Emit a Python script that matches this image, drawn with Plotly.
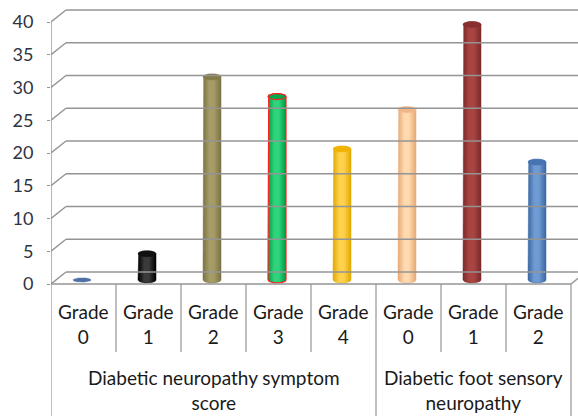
import numpy as np
import plotly.graph_objects as go

# ---- data -------------------------------------------------------------
categories = ["Grade 0", "Grade 1", "Grade 2", "Grade 3", "Grade 4",
              "Grade 0", "Grade 1", "Grade 2"]
values = [0, 4, 31, 28, 20, 26, 39, 18]
groups = ["Diabetic neuropathy symptom<br>score",
          "Diabetic foot sensory<br>neuropathy"]
group_sizes = [5, 3]
y_ticks = [0, 5, 10, 15, 20, 25, 30, 35, 40]

# ---- styling ----------------------------------------------------------
# (shadow, highlight, top cap, outline) per cylinder
bar_styles = [
    ("#3f5f93", "#6f8fc4", "#4f6fa5", None),
    ("#000000", "#3a3a3a", "#111111", None),
    ("#7b7243", "#a59c66", "#857b48", None),
    ("#009a44", "#2fd47a", "#00a84c", "#ff2020"),
    ("#e0a800", "#ffd24d", "#f0b400", None),
    ("#e8a875", "#ffd9b0", "#f2b788", None),
    ("#7a2a29", "#a84543", "#862f2e", None),
    ("#3b68a3", "#6f9ad2", "#4674b0", None),
]

W, H = 578, 416
ML = 51                     # left margin (front value axis)
CAT_PX = 65                 # category width in px
Y0_PX, Y40_PX = 284, 22     # pixel rows of 0 and 40 on the front wall
PX_PER_UNIT = (Y0_PX - Y40_PX) / 40.0

x_lo = -0.5
x_hi = x_lo + (W - ML) / CAT_PX
y_hi = Y0_PX / PX_PER_UNIT
y_lo = -(H - Y0_PX) / PX_PER_UNIT

DEPTH_DX = 15 / CAT_PX          # back-wall offset (x)
DEPTH_DY = 12 / PX_PER_UNIT     # back-wall offset (y)
BAR_DY = 4 / PX_PER_UNIT        # bars stand a little behind the front edge
BAR_DX = -1.5 / CAT_PX
RX = 9 / CAT_PX                 # cylinder radius (x units)
RY = 3 / PX_PER_UNIT            # ellipse half-height (y units)

GRID = "#949494"
LABEL_FONT = dict(family="Lato", size=19, color="#1a1a1a")
fig = go.Figure()

# ---- walls / gridlines ------------------------------------------------
shapes = []
for t in y_ticks:
    shapes.append(dict(type="line", xref="x", yref="y",
                       x0=x_lo, y0=t, x1=x_lo + DEPTH_DX, y1=t + DEPTH_DY,
                       line=dict(color=GRID, width=1.4)))
    shapes.append(dict(type="line", xref="x", yref="y",
                       x0=x_lo + DEPTH_DX, y0=t + DEPTH_DY, x1=x_hi, y1=t + DEPTH_DY,
                       line=dict(color=GRID, width=1.4)))
# floor front edge and right-hand floor edge
n = len(categories)
x_end = x_lo + n
shapes.append(dict(type="line", xref="x", yref="y", x0=x_lo, y0=0, x1=x_end, y1=0,
                   line=dict(color=GRID, width=1.4)))
shapes.append(dict(type="line", xref="x", yref="y", x0=x_end, y0=0,
                   x1=x_end + DEPTH_DX, y1=DEPTH_DY,
                   line=dict(color=GRID, width=1.4)))
# front value axis
shapes.append(dict(type="line", xref="x", yref="y", x0=x_lo, y0=y_ticks[-1], x1=x_lo, y1=0,
                   line=dict(color=GRID, width=1.4)))

# category dividers
inner_bottom = -(352 - Y0_PX) / PX_PER_UNIT
group_edges = np.cumsum([0] + group_sizes)
for k in range(n + 1):
    bottom = y_lo if k in group_edges else inner_bottom
    shapes.append(dict(type="line", xref="x", yref="y",
                       x0=x_lo + k, y0=0, x1=x_lo + k, y1=bottom,
                       line=dict(color=GRID, width=1.2)))

# ---- cylinders --------------------------------------------------------
theta_top = np.linspace(np.pi, 0, 40)
theta_bot = np.linspace(0, -np.pi, 40)
theta_full = np.linspace(0, 2 * np.pi, 80)

for i, (v, style) in enumerate(zip(values, bar_styles)):
    shadow, light, cap, outline = style
    cx = i + BAR_DX
    base = BAR_DY
    top = BAR_DY + v
    if v > 0:
        xs = np.concatenate([[cx - RX], cx + RX * np.cos(theta_top), [cx + RX],
                             cx + RX * np.cos(theta_bot)])
        ys = np.concatenate([[base], top + RY * np.sin(theta_top), [base],
                             base + RY * np.sin(theta_bot)])
        fig.add_trace(go.Scatter(
            x=xs, y=ys, mode="lines", fill="toself",
            line=dict(color=outline if outline else shadow, width=1.2 if outline else 0.5),
            fillgradient=dict(type="horizontal",
                              colorscale=[[0, shadow], [0.35, light], [0.6, light], [1, shadow]]),
            hoverinfo="skip", showlegend=False))
    fig.add_trace(go.Scatter(
        x=cx + RX * np.cos(theta_full),
        y=top + (RY if v > 0 else RY * 0.7) * np.sin(theta_full),
        mode="lines", fill="toself", fillcolor=cap,
        line=dict(color=outline if outline else cap, width=1.2 if outline else 0.5),
        hovertemplate=f"{categories[i]}: {v}<extra></extra>", showlegend=False))

# ---- category and group labels ---------------------------------------
annotations = []
for i, c in enumerate(categories):
    word, num = c.split(" ")
    annotations.append(dict(x=i, y=-(323.5 - Y0_PX) / PX_PER_UNIT, xref="x", yref="y",
                            text=f"{word}<br>{num}", showarrow=False, font=LABEL_FONT))
for g, (label, start, size) in enumerate(zip(groups, group_edges[:-1], group_sizes)):
    annotations.append(dict(x=x_lo + start + size / 2, y=-(390 - Y0_PX) / PX_PER_UNIT,
                            xref="x", yref="y", text=label, showarrow=False,
                            font=LABEL_FONT))

fig.update_layout(
    width=W, height=H,
    margin=dict(l=ML, r=0, t=0, b=0),
    paper_bgcolor="white", plot_bgcolor="white",
    shapes=shapes, annotations=annotations,
    xaxis=dict(range=[x_lo, x_hi], visible=False, fixedrange=True),
    yaxis=dict(range=[y_lo, y_hi], tickvals=y_ticks, ticktext=[str(t) for t in y_ticks],
               showgrid=False, zeroline=False, showline=False,
               ticks="outside", ticklen=3, tickcolor=GRID, ticklabelstandoff=10,
               tickfont=dict(family="Lato", size=18, color="#2e3342"),
               fixedrange=True),
    showlegend=False,
)

fig.write_html("out.html")
